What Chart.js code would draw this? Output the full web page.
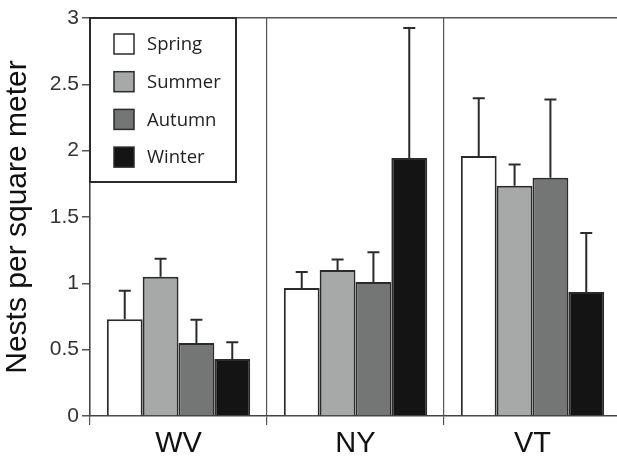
<!DOCTYPE html>
<html lang="en">
<head>
    <meta charset="UTF-8">
    <title>Nests per square meter</title>
    <script src="https://cdn.jsdelivr.net/npm/chart.js"></script>
    <style>
        html, body {
            margin: 0;
            padding: 0;
            background: #ffffff;
            overflow: hidden;
        }
        .chart-box {
            width: 621px;
            height: 459px;
        }
    </style>
</head>
<body>
    <div class="chart-box">
        <canvas id="nestChart"></canvas>
    </div>

    <script>
        // data
        var sites = ['WV', 'NY', 'VT'];
        var seasons = ['Spring', 'Summer', 'Autumn', 'Winter'];
        var springMeans = [0.73, 0.965, 1.96];
        var summerMeans = [1.05, 1.10, 1.735];
        var autumnMeans = [0.55, 1.01, 1.795];
        var winterMeans = [0.43, 1.945, 0.935];
        var springErr = [0.215, 0.12, 0.435];
        var summerErr = [0.135, 0.08, 0.16];
        var autumnErr = [0.175, 0.225, 0.59];
        var winterErr = [0.125, 0.98, 0.445];
        var yTicks = [0, 0.5, 1, 1.5, 2, 2.5, 3];

        var seasonColors = ['#ffffff', '#a7a9a8', '#747675', '#141414'];
        var edge = '#2b2b2b';
        var axisFont = "'Liberation Sans', Arial, sans-serif";
        var legendFont = "'Open Sans', sans-serif";

        var means = [springMeans, summerMeans, autumnMeans, winterMeans];
        var errs = [springErr, summerErr, autumnErr, winterErr];

        var datasets = seasons.map(function(name, i) {
            return {
                label: name,
                data: means[i],
                errors: errs[i],
                backgroundColor: seasonColors[i],
                borderColor: edge,
                borderWidth: 2,
                borderSkipped: 'bottom'
            };
        });

        // upward-only error bars with caps
        var errorBars = {
            id: 'errorBars',
            afterDatasetsDraw: function(chart) {
                var ctx = chart.ctx;
                var yScale = chart.scales.y;
                ctx.save();
                ctx.strokeStyle = edge;
                ctx.lineWidth = 2;
                chart.data.datasets.forEach(function(ds, di) {
                    var meta = chart.getDatasetMeta(di);
                    meta.data.forEach(function(bar, i) {
                        var top = yScale.getPixelForValue(ds.data[i] + ds.errors[i]);
                        ctx.beginPath();
                        ctx.moveTo(bar.x, bar.y);
                        ctx.lineTo(bar.x, top);
                        ctx.moveTo(bar.x - 6, top);
                        ctx.lineTo(bar.x + 6, top);
                        ctx.stroke();
                    });
                });
                ctx.restore();
            }
        };

        // boxed legend in the top-left corner of the plot
        var boxLegend = {
            id: 'boxLegend',
            afterDraw: function(chart) {
                var ctx = chart.ctx;
                var area = chart.chartArea;
                var x0 = area.left, y0 = area.top;
                ctx.save();
                ctx.fillStyle = '#ffffff';
                ctx.strokeStyle = edge;
                ctx.lineWidth = 2;
                ctx.fillRect(x0, y0, 146, 164);
                ctx.strokeRect(x0, y0, 146, 164);
                ctx.font = '18.5px ' + legendFont;
                ctx.textBaseline = 'middle';
                chart.data.datasets.forEach(function(ds, i) {
                    var cy = y0 + 26 + i * 37.7;
                    ctx.fillStyle = ds.backgroundColor;
                    ctx.fillRect(x0 + 24, cy - 10, 20, 20);
                    ctx.lineWidth = 1.5;
                    ctx.strokeRect(x0 + 24, cy - 10, 20, 20);
                    ctx.fillStyle = '#222';
                    ctx.fillText(ds.label, x0 + 57, cy + 1);
                });
                ctx.restore();
            }
        };

        var ctx = document.getElementById('nestChart').getContext('2d');
        new Chart(ctx, {
            type: 'bar',
            data: {
                labels: sites,
                datasets: datasets
            },
            options: {
                responsive: true,
                maintainAspectRatio: false,
                animation: false,
                layout: {
                    padding: { top: 18, right: 0, bottom: 0, left: 0 }
                },
                datasets: {
                    bar: {
                        categoryPercentage: 0.81,
                        barPercentage: 1.0
                    }
                },
                plugins: {
                    legend: { display: false },
                    tooltip: { enabled: false }
                },
                scales: {
                    x: {
                        offset: true,
                        grid: {
                            offset: true,
                            color: '#555',
                            lineWidth: 1.2,
                            tickLength: 9,
                            tickColor: '#555'
                        },
                        border: { color: '#444', width: 1.5 },
                        ticks: {
                            color: '#111',
                            padding: 2,
                            font: { family: axisFont, size: 29 }
                        },
                        afterFit: function(scale) { scale.height = 43; }
                    },
                    y: {
                        min: 0,
                        max: 3,
                        afterBuildTicks: function(scale) {
                            scale.ticks = yTicks.map(function(v) { return { value: v }; });
                        },
                        grid: {
                            drawOnChartArea: true,
                            color: function(c) { return c.tick && c.tick.value === 3 ? '#555' : 'rgba(0,0,0,0)'; },
                            lineWidth: 1.5,
                            tickLength: 8,
                            tickColor: '#555'
                        },
                        border: { color: '#444', width: 1.5 },
                        ticks: {
                            color: '#333',
                            padding: 3,
                            font: { family: axisFont, size: 21 },
                            callback: function(v) { return String(v); }
                        },
                        title: {
                            display: true,
                            text: 'Nests per square meter',
                            color: '#111',
                            padding: { top: 0, bottom: 2 },
                            font: { family: axisFont, size: 30 }
                        },
                        afterFit: function(scale) { scale.width = 90; }
                    }
                }
            },
            plugins: [errorBars, boxLegend]
        });
    </script>
</body>
</html>
